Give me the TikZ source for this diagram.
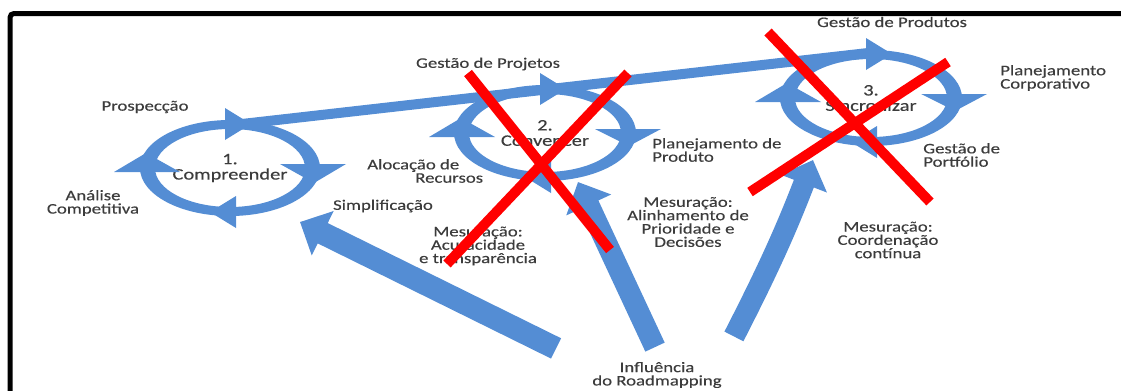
\documentclass[tikz,border=0pt]{standalone}
\usepackage{fontspec}
\setmainfont{Carlito}[FakeStretch=1.28, FakeBold=0.3]
\usetikzlibrary{shapes.geometric, arrows.meta}
\definecolor{azul}{RGB}{84,141,212}
\definecolor{texto}{RGB}{60,60,60}

\begin{document}
\begin{tikzpicture}[x=0.75pt, y=-0.75pt,
  rotulo/.style={inner sep=0pt, text=texto, font=\fontsize{11}{10}\selectfont, align=center},
  ciclo/.style={ellipse, minimum width=126pt, minimum height=66pt,
    inner sep=0pt, outer sep=0pt, text=texto, font=\fontsize{12}{11.5}\selectfont, align=center},
  anel/.style={fill=azul, even odd rule},
  ponta/.style={fill=azul},
  linha/.style={draw=azul, line width=7.5pt},
  seta/.style={draw=azul, line width=17pt, -{Triangle[length=19pt,width=36pt]}},
  xis/.style={draw=red, line width=7.5pt}]
  \useasboundingbox (0,0) rectangle (1121,390);

  % moldura
  \draw[line width=3.75pt, rounded corners=3pt] (10,450) -- (10,13.5) -- (1200,13.5);

  % ciclos
  \node[ciclo] (c1) at (230,168) {1.\\Compreender};
  \node[ciclo] (c2) at (545,133) {2.\\Convencer};
  \node[ciclo] (c3) at (871,98) {3.\\Sincronizar};

  \fill[anel] (c1) ellipse [x radius=90, y radius=48] (c1) ellipse [x radius=75, y radius=39];
  \fill[anel] (c2) ellipse [x radius=91, y radius=48] (c2) ellipse [x radius=76, y radius=39];
  \fill[anel] (c3) ellipse [x radius=91, y radius=48] (c3) ellipse [x radius=76, y radius=39];

  \draw[linha] ([yshift=-1pt]c1.north) -- ([yshift=1pt]c3.north);

  \begin{scope}[shift={(c1)}]
  \fill[ponta] (-5,-60) -- (-5,-28) -- (21,-44) -- cycle;
  \fill[ponta] (50,-4) -- (116,-4) -- (84,15) -- cycle;
  \fill[ponta] (6,28) -- (6,60) -- (-20,44) -- cycle;
  \fill[ponta] (-116,4) -- (-50,4) -- (-84,-15) -- cycle;
  \end{scope}

  \begin{scope}[shift={(c2)}]
  \fill[ponta] (-5,-60) -- (-5,-28) -- (21,-44) -- cycle;
  \fill[ponta] (50,-4) -- (116,-4) -- (84,13) -- cycle;
  \fill[ponta] (6,28) -- (6,60) -- (-20,44) -- cycle;
  \fill[ponta] (-116,4) -- (-50,4) -- (-84,-15) -- cycle;
  \end{scope}

  \begin{scope}[shift={(c3)}]
  \fill[ponta] (-5,-60) -- (-5,-28) -- (21,-44) -- cycle;
  \fill[ponta] (50,-4) -- (116,-4) -- (84,13) -- cycle;
  \fill[ponta] (6,28) -- (6,60) -- (-20,44) -- cycle;
  \fill[ponta] (-116,4) -- (-50,4) -- (-84,-15) -- cycle;
  \end{scope}

  % rotulos
  \node[rotulo] (gprod) at (892,22) {Gestão de Produtos};
  \node[rotulo] (gproj) at (488,64) {Gestão de Projetos};
  \node[rotulo, anchor=west, align=left] (pcorp) at (1000,78) {Planejamento\\Corporativo};
  \node[rotulo] (prosp) at (145,107) {Prospecção};
  \node[rotulo] (anal) at (93,203) {Análise\\Competitiva};
  \node[rotulo] (simp) at (383,206) {Simplificação};
  \node[rotulo, anchor=west, align=left] (aloc) at (367,171) {Alocação de\\\hspace*{36pt}Recursos};
  \node[rotulo, anchor=west, align=left] (pprod) at (652,150) {Planejamento de\\Produto};
  \node[rotulo, anchor=west, align=left] (gport) at (923,155) {Gestão de\\Portfólio};
  \node[rotulo] (mes1) at (478,246) {Mesuração:\\Acuracidade\\e transparência};
  \node[rotulo] (mes2) at (688,222) {Mesuração:\\Alinhamento de\\Prioridade e\\Decisões};
  \node[rotulo] (mes3) at (888,240) {Mesuração:\\Coordenação\\contínua};
  \node[rotulo] (inf) at (657,375) {Influência\\do Roadmapping};

  % setas de influencia
  \coordinate (pA) at (300,222);
  \coordinate (pB) at (578,182);
  \coordinate (pC) at (813,160);
  \draw[seta] ([xshift=-27pt,yshift=10pt]inf.north west) -- (pA);
  \draw[seta, line width=16pt] ([xshift=-1.5pt,yshift=11pt]inf.north) -- (pB);
  \draw[seta, line width=16pt] ([xshift=9pt,yshift=19pt]inf.north east) to[bend right=3] (pC);

  % cruzes
  \draw[xis] (468,73) -- (610,250);
  \draw[xis] (628,73) -- (447,264);
  \draw[xis] (768,32) -- (930,202);
  \draw[xis] (948,62) -- (750,192);
\end{tikzpicture}
\end{document}
